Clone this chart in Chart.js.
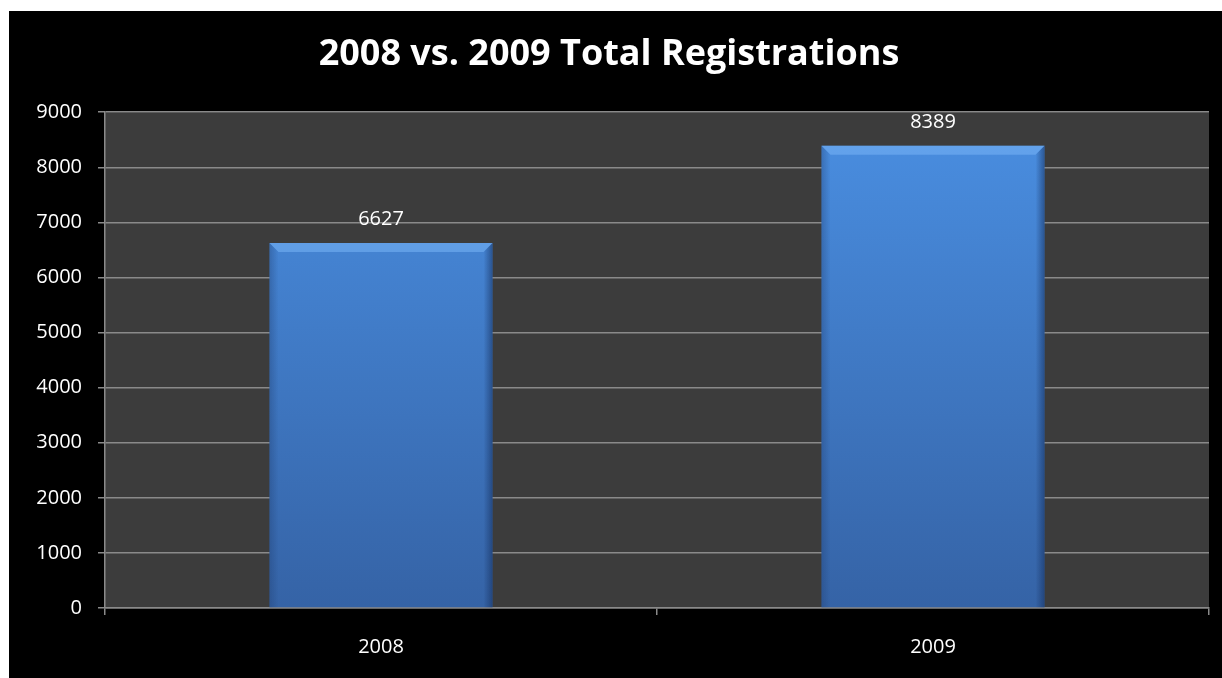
<!DOCTYPE html>
<html>
<head>
<meta charset="utf-8">
<script src="https://cdn.jsdelivr.net/npm/chart.js@4"></script>
<style>
    html, body { margin: 0; padding: 0; background: #fff; }
    #wrap { position: absolute; left: 9px; top: 11px; width: 1213px; height: 667px; background: #000; }
</style>
</head>
<body>
<div id="wrap"><canvas id="regChart" width="1213" height="667"></canvas></div>
<script>
// 차트 데이터
const categories = ['2008', '2009'];
const registrations = [6627, 8389];
const yTicks = [0, 1000, 2000, 3000, 4000, 5000, 6000, 7000, 8000, 9000];

const FONT = '"Open Sans", "Noto Sans", sans-serif';

// 플롯 영역 배경
const plotBg = {
    id: 'plotBg',
    beforeDraw(chart) {
        const { ctx, chartArea: a } = chart;
        ctx.save();
        ctx.fillStyle = '#3c3c3c';
        ctx.fillRect(a.left, a.top, a.right - a.left, a.bottom - a.top);
        ctx.restore();
    }
};

// 막대 베벨 효과 + 값 라벨
const bevelLabels = {
    id: 'bevelLabels',
    afterDatasetsDraw(chart) {
        const { ctx } = chart;
        const meta = chart.getDatasetMeta(0);
        meta.data.forEach((bar, i) => {
            const half = bar.width / 2;
            const l = bar.x - half, r = bar.x + half;
            const t = bar.y, b = bar.base;
            const e = 9;
            ctx.save();
            // 위쪽 밝은 면
            ctx.fillStyle = 'rgba(120,180,245,0.55)';
            ctx.beginPath();
            ctx.moveTo(l, t); ctx.lineTo(r, t); ctx.lineTo(r - e, t + e); ctx.lineTo(l + e, t + e);
            ctx.closePath(); ctx.fill();
            // 왼쪽 면
            let g = ctx.createLinearGradient(l, 0, l + e, 0);
            g.addColorStop(0, 'rgba(30,60,110,0.35)');
            g.addColorStop(1, 'rgba(30,60,110,0)');
            ctx.fillStyle = g;
            ctx.beginPath();
            ctx.moveTo(l, t); ctx.lineTo(l + e, t + e); ctx.lineTo(l + e, b); ctx.lineTo(l, b);
            ctx.closePath(); ctx.fill();
            // 오른쪽 면
            g = ctx.createLinearGradient(r - e, 0, r, 0);
            g.addColorStop(0, 'rgba(20,45,90,0)');
            g.addColorStop(1, 'rgba(20,45,90,0.55)');
            ctx.fillStyle = g;
            ctx.beginPath();
            ctx.moveTo(r, t); ctx.lineTo(r - e, t + e); ctx.lineTo(r - e, b); ctx.lineTo(r, b);
            ctx.closePath(); ctx.fill();
            // 값 라벨
            ctx.fillStyle = '#ffffff';
            ctx.font = '20px ' + FONT;
            ctx.textAlign = 'center';
            ctx.textBaseline = 'middle';
            ctx.fillText(String(registrations[i]), bar.x, t - 24);
            ctx.restore();
        });
    }
};

const ctx = document.getElementById('regChart').getContext('2d');
new Chart(ctx, {
    type: 'bar',
    data: {
        labels: categories,
        datasets: [{
            data: registrations,
            backgroundColor(context) {
                const a = context.chart.chartArea;
                if (!a) return '#4385d6';
                const g = context.chart.ctx.createLinearGradient(0, a.top, 0, a.bottom);
                g.addColorStop(0, '#4a8fe2');
                g.addColorStop(1, '#3563a6');
                return g;
            },
            borderWidth: 0,
            barPercentage: 0.404,
            categoryPercentage: 1
        }]
    },
    plugins: [plotBg, bevelLabels],
    options: {
        responsive: false,
        animation: false,
        layout: { padding: { left: 0, right: 13, top: 0, bottom: 0 } },
        plugins: {
            legend: { display: false },
            tooltip: { enabled: false },
            title: {
                display: true,
                text: '2008 vs. 2009 Total Registrations',
                color: '#ffffff',
                font: { family: FONT, size: 36, weight: 'bold' },
                padding: { top: 22, bottom: 36 }
            }
        },
        scales: {
            x: {
                grid: { display: true, drawOnChartArea: false, drawTicks: true, tickLength: 7, color: '#8a8a8a', lineWidth: 1.5, offset: true },
                border: { display: true, color: '#8a8a8a', width: 1.5 },
                ticks: { color: '#ffffff', font: { family: FONT, size: 20 }, padding: 20 },
                afterFit(scale) { scale.height = 70; }
            },
            y: {
                min: 0,
                max: 9000,
                afterBuildTicks(scale) { scale.ticks = yTicks.map(v => ({ value: v })); },
                grid: { color: '#8a8a8a', lineWidth: 1.5, tickLength: 7 },
                border: { display: true, color: '#8a8a8a', width: 1.5 },
                ticks: { color: '#ffffff', font: { family: FONT, size: 20 }, padding: 16, callback: v => String(v) },
                afterFit(scale) { scale.width = 96; }
            }
        }
    }
});
</script>
</body>
</html>
